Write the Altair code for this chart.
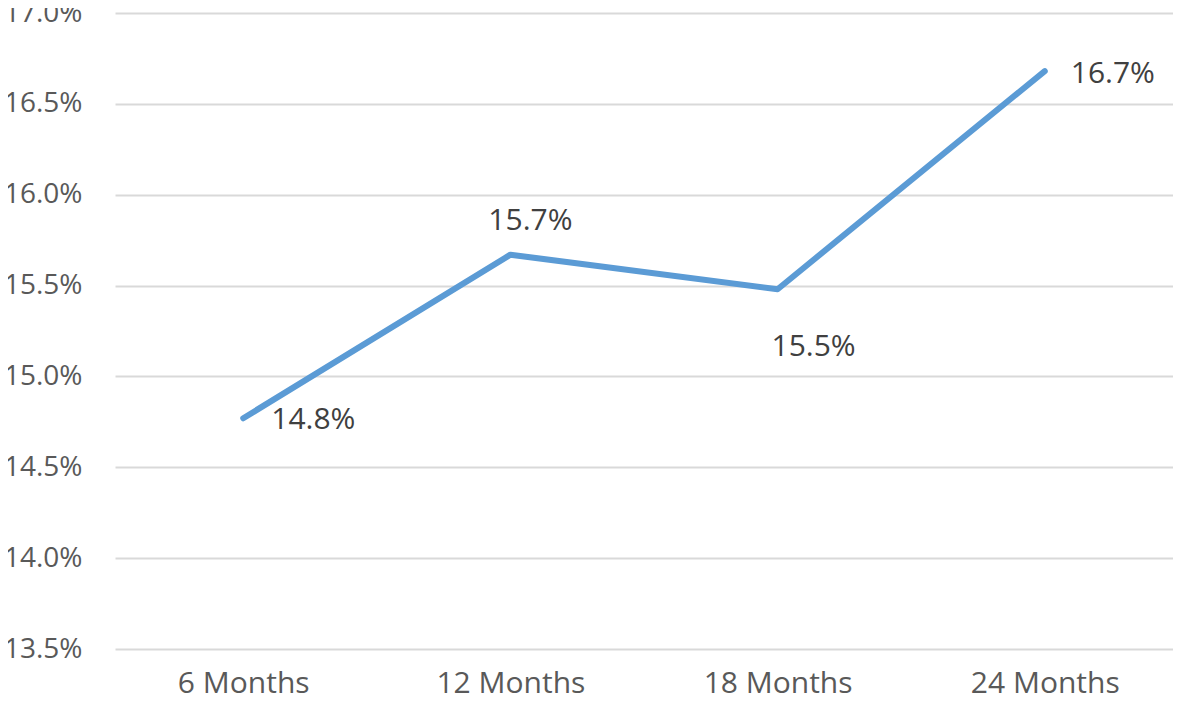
import altair as alt
import pandas as pd

periods = ["6 Months", "12 Months", "18 Months", "24 Months"]
rates = [0.1477, 0.1567, 0.1548, 0.1668]
y_ticks = [0.135, 0.14, 0.145, 0.15, 0.155, 0.16, 0.165, 0.17]

df = pd.DataFrame({"period": periods, "rate": rates})

FONT = "Open Sans"
x_scale = alt.Scale(type="point", padding=0.48)

x_enc = alt.X("period:N", sort=periods, title=None, scale=x_scale,
              axis=alt.Axis(labelAngle=0, labelFontSize=30, labelFont=FONT,
                            labelColor="#595959", labelPadding=19,
                            ticks=False, domain=False, grid=False))
y_enc = alt.Y("rate:Q", title=None,
              scale=alt.Scale(domain=[0.135, 0.17], nice=False, zero=False),
              axis=alt.Axis(values=y_ticks, format=".1%", labelFontSize=28,
                            labelFont=FONT, labelColor="#595959",
                            labelPadding=33, ticks=False, domain=False,
                            grid=True, gridColor="#d9d9d9", gridWidth=2))

base = alt.Chart(df)

line = base.mark_line(color="#5b9bd5", strokeWidth=6, strokeCap="round",
                      strokeJoin="round").encode(x=x_enc, y=y_enc)

offsets = {
    "6 Months": ("left", 28, 2),
    "12 Months": ("center", 20, -34),
    "18 Months": ("center", 36, 58),
    "24 Months": ("left", 26, 3),
}

texts = []
for p in periods:
    al, dx, dy = offsets[p]
    t = base.transform_filter(alt.datum.period == p).mark_text(
        align=al, baseline="middle", dx=dx, dy=dy, fontSize=30, font=FONT,
        color="#404040").encode(
        x=alt.X("period:N", sort=periods, scale=x_scale),
        y=alt.Y("rate:Q"),
        text=alt.Text("rate:Q", format=".1%"))
    texts.append(t)

chart = alt.layer(line, *texts).properties(
    width=1058, height=636,
    background="white",
    autosize=alt.AutoSizeParams(type="none"),
    padding={"left": 107, "top": 5, "right": 0, "bottom": 46},
).configure_view(strokeWidth=0)

chart.save("out.html", embed_options={"renderer": "svg", "actions": False})
